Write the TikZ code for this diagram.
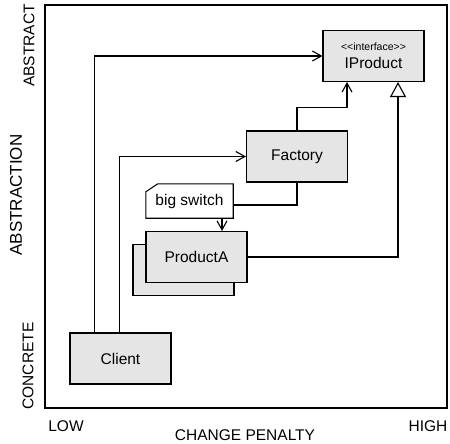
\documentclass[tikz,border=0pt]{standalone}
\usepackage{fontspec}
\setmainfont{Liberation Sans}
\usetikzlibrary{arrows.meta,calc}
\tikzset{>={Straight Barb[length=9pt,width=10pt]},every node/.style={font=\fontsize{15.5}{17}\selectfont},
box/.style={draw,fill=black!10,line width=1.1pt,minimum width=101pt,minimum height=51pt,inner sep=0pt,align=center},
notebox/.style={minimum width=87pt,minimum height=34pt,inner sep=0pt},
axis/.style={font=\fontsize{15.5}{17}\selectfont,inner sep=0pt},
dep/.style={line width=1.1pt,->},impl/.style={line width=1.1pt,-{Triangle[open,length=15pt,width=16pt]}},edge/.style={line width=1.1pt}}

\begin{document}
\begin{tikzpicture}[x=1pt,y=-1pt]
\useasboundingbox (0,0) rectangle (450,444);
\draw[edge] (45,5) rectangle (447,408);
\node[axis,rotate=90] (abs) at (29,45.5){ABSTRACT};\node[axis,rotate=90,font=\fontsize{17}{19}\selectfont] (abstion) at (16,195){ABSTRACTION};\node[axis,rotate=90] (conc) at (28,366){CONCRETE};
\node[axis] (low) at (66,426){LOW};\node[axis] (pen) at (245,435.5){CHANGE PENALTY};\node[axis] (high) at (428,426){HIGH};
\node[box] (iprod) at (373.5,56){{\fontsize{10.5}{12}\selectfont <{}<interface>{}>}\\[1pt]IProduct};
\node[box] (fact) at (297,156.5){Factory};
\node[box] (shadow) at (183.5,270){};\node[box] (proda) at (196.5,257){ProductA};
\node[box] (client) at (120.5,358.5){Client};
\node[notebox] (switch) at (189.5,201){big switch};
\draw[edge,fill=white] ($(switch.north west)+(0,8)$)--($(switch.north west)+(12,0)$)--(switch.north east)--(switch.south east)--(switch.south west)--cycle;
\node[notebox] at (switch){big switch};
\draw[dep] ([xshift=25pt]client.north west) |- (iprod.west);
\draw[dep] ([xshift=50pt]client.north west) |- (fact.west);
\draw[dep] (fact.north) -- ++(0,-23) -| ([xshift=-26.5pt]iprod.south);
\draw[edge] (fact.south) |- ([yshift=-4pt]switch.east);
\coordinate (sw) at ([xshift=32.5pt]switch.south);\draw[dep] (sw) -- (sw |- proda.north);
\draw[impl] (proda.east) -| ([xshift=24.5pt]iprod.south);
\end{tikzpicture}
\end{document}
